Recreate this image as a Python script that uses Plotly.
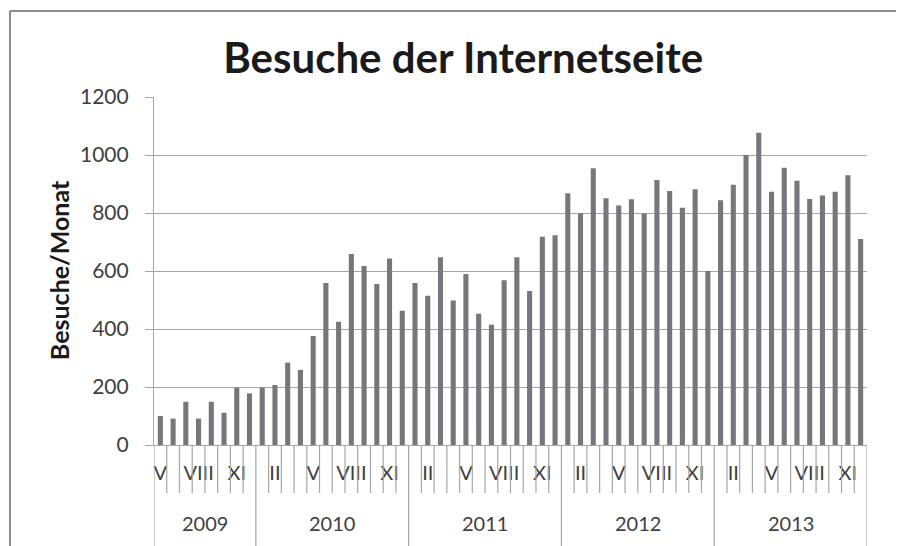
import plotly.graph_objects as go

# monthly visits, May 2009 .. Dec 2013
YEARS = ["2009", "2010", "2011", "2012", "2013"]
MONTHS_PER_YEAR = [8, 12, 12, 12, 12]
ROMAN = ["I", "II", "III", "IV", "V", "VI", "VII", "VIII", "IX", "X", "XI", "XII"]

visits_2009 = [100, 91, 149, 91, 149, 111, 198, 178]
visits_2010 = [198, 207, 284, 259, 376, 559, 425, 659, 617, 555, 643, 463]
visits_2011 = [559, 515, 647, 498, 590, 453, 415, 568, 647, 531, 718, 723]
visits_2012 = [868, 799, 954, 851, 826, 847, 799, 914, 876, 818, 882, 600]
visits_2013 = [844, 897, 1000, 1077, 873, 956, 911, 848, 860, 873, 930, 710]

visits = visits_2009 + visits_2010 + visits_2011 + visits_2012 + visits_2013
months = ROMAN[4:] + ROMAN * 4
idx = list(range(len(visits)))

FONT = "Lato"
GRID = "#a6a6a6"
TEXT = "#404040"

fig = go.Figure()
fig.add_trace(
    go.Bar(
        x=idx,
        y=visits,
        marker=dict(color="#76777b", line_width=0),
        showlegend=False,
    )
)

# Excel-style boundary ticks below the axis
shapes = []
year_bounds = []
start = 0
for n in MONTHS_PER_YEAR:
    year_bounds.append(start - 0.5)
    start += n
year_bounds.append(start - 0.5)

for i in range(len(visits) + 1):
    b = i - 0.5
    long = b in year_bounds
    shapes.append(
        dict(
            type="line", xref="x", yref="paper",
            x0=b, x1=b, y0=0, y1=-0.32 if long else -0.138,
            line=dict(color=GRID, width=1.2),
        )
    )

# chart frame (left and top edges visible)
shapes.append(dict(type="line", xref="paper", yref="paper",
                   x0=-0.202, x1=1.06, y0=1.247, y1=1.247,
                   line=dict(color="#8c8c8c", width=2)))
shapes.append(dict(type="line", xref="paper", yref="paper",
                   x0=-0.202, x1=-0.202, y0=1.247, y1=-0.35,
                   line=dict(color="#8c8c8c", width=2)))

annotations = []
start = 0
for year, n in zip(YEARS, MONTHS_PER_YEAR):
    annotations.append(
        dict(
            x=start + (n - 1) / 2, y=-0.224, xref="x", yref="paper",
            text=year, showarrow=False, yanchor="middle",
            font=dict(family=FONT, size=20, color=TEXT),
        )
    )
    start += n

annotations.append(
    dict(
        x=-0.133, y=0.503, xref="paper", yref="paper",
        xanchor="center", yanchor="middle",
        text="<b>Besuche/Monat</b>", showarrow=False, textangle=-90,
        font=dict(family=FONT, size=25, color="#1a1a1a"),
    )
)

# page body has an 8px margin, so the figure is 8px smaller than the window
fig.update_layout(
    width=896,
    height=538,
    margin=dict(l=146, r=37, t=89, b=101),
    paper_bgcolor="white",
    plot_bgcolor="white",
    bargap=0.6,
    title=dict(
        text="<b>Besuche der Internetseite</b>",
        x=0.508, y=0.907, xanchor="center", yanchor="middle",
        font=dict(family=FONT, size=42, color="#1a1a1a"),
    ),
    shapes=shapes,
    annotations=annotations,
)
fig.update_xaxes(
    range=[-0.5, len(visits) - 0.5],
    tickvals=idx[::3],
    ticktext=months[::3],
    ticks="",
    ticklabelstandoff=10,
    showgrid=False,
    showline=True,
    linecolor=GRID,
    linewidth=1.2,
    tickfont=dict(family=FONT, size=20, color=TEXT),
    zeroline=False,
)
fig.update_yaxes(
    range=[0, 1200],
    dtick=200,
    showgrid=True,
    gridcolor=GRID,
    gridwidth=1.2,
    showline=True,
    linecolor=GRID,
    linewidth=1.2,
    ticks="outside",
    ticklen=8,
    tickcolor=GRID,
    ticklabelstandoff=12,
    tickfont=dict(family=FONT, size=21, color=TEXT),
    zeroline=False,
)

fig.write_html("out.html", config={"displayModeBar": False})
